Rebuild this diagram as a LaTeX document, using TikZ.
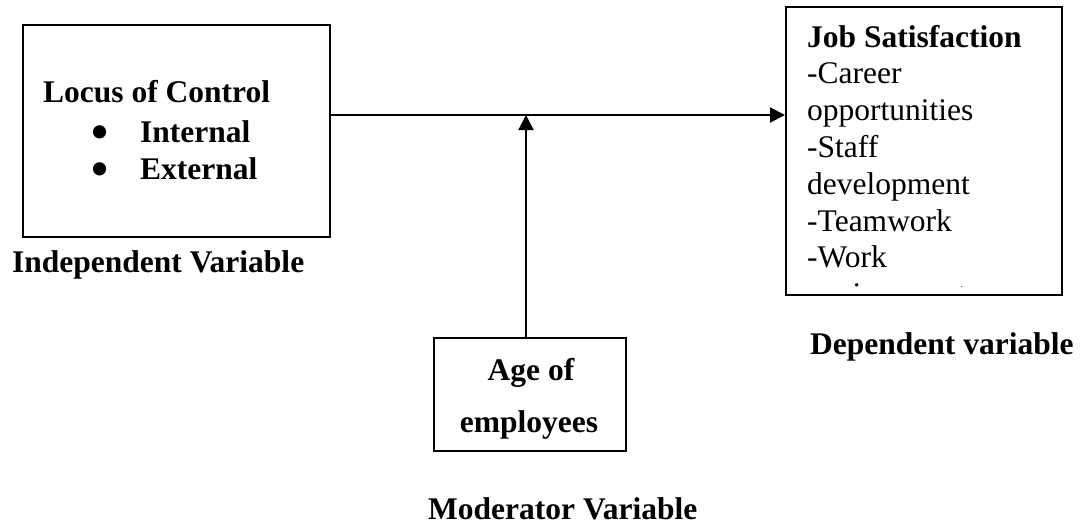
\documentclass[tikz,border=0pt]{standalone}
\usepackage{fontspec}
\setmainfont{Liberation Serif}
\usetikzlibrary{arrows.meta}
\newcommand\diagfont{\fontsize{31.5pt}{36.8pt}\selectfont}
\newcommand\bigbullet{\makebox[48.8pt][l]{\smash{\raisebox{-6.6pt}{\scalebox{1.55}{•}}}}}
\begin{document}
\begin{tikzpicture}[x=1pt,y=-1pt,
  box/.style={draw=black,line width=2pt,inner sep=0pt,rectangle},
  lbl/.style={inner sep=0pt,font=\diagfont},
  blbl/.style={inner sep=0pt,font=\diagfont\bfseries},
  arr/.style={line width=2pt,-{Triangle[length=15pt,width=15pt]}}]
\useasboundingbox (0,0) rectangle (1082,525);
% boxes
\node[box,minimum width=307pt,minimum height=212pt] (L) at (176.5,131) {};
\node[box,minimum width=276pt,minimum height=288pt] (R) at (924,151) {};
\node[box,minimum width=192pt,minimum height=113pt] (M) at (530,394.5) {};
% left box text
\node[blbl,anchor=base west] (loc) at (43,102) {Locus of Control};
\node[blbl,anchor=base west] (int) at (91.2,142) {\bigbullet Internal};
\node[blbl,anchor=base west] (ext) at (91.2,179) {\bigbullet External};
\node[blbl,anchor=base west] (iv) at (12,272) {Independent Variable};
% right box text
\node[lbl,anchor=base west] (js) at (807,47) {%
  \begin{tabular}[t]{@{}l@{}}
  \textbf{Job Satisfaction}\\
  -Career\\
  opportunities\\
  -Staff\\
  development\\
  -Teamwork\\
  -Work
  \end{tabular}};
\begin{scope}
  \clip (787,8) rectangle (1061,286);
  \node[lbl,anchor=base west] (env) at (807,304.6) {environment};
\end{scope}
\node[blbl,anchor=base west] (dv) at (810,354) {Dependent variable};
% middle box text
\node[blbl,anchor=base] (age1) at (531,380) {Age of};
\node[blbl,anchor=base] (age2) at (529,432) {employees};
\node[blbl,anchor=base west] (mv) at (428,519) {Moderator Variable};
% connectors
\coordinate (J) at (526,115);
\draw[arr] (L.east |- J) -- (R.west |- J);
\draw[arr] (J |- M.north) -- (J);
\end{tikzpicture}
\end{document}
